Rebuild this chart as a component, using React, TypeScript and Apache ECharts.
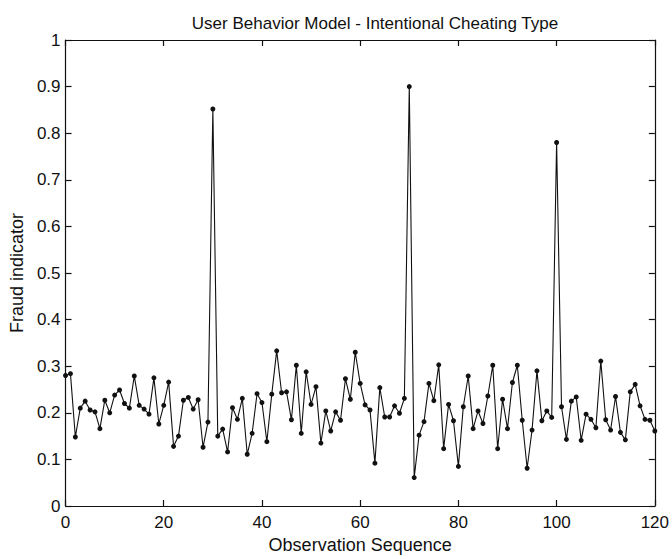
import React, { useEffect, useRef } from "react";
import * as echarts from "echarts";

const titleText = "User Behavior Model - Intentional Cheating Type";
const xName = "Observation Sequence";
const yName = "Fraud indicator";

// observation index 0..120
const fraudValues: number[] = [
  0.28, 0.284, 0.148, 0.21, 0.225, 0.206, 0.202, 0.166, 0.227, 0.2,
  0.238, 0.249, 0.22, 0.21, 0.279, 0.216, 0.208, 0.197, 0.275, 0.176,
  0.216, 0.266, 0.128, 0.15, 0.227, 0.233, 0.208, 0.228, 0.126, 0.18,
  0.852, 0.15, 0.165, 0.116, 0.211, 0.186, 0.231, 0.111, 0.156, 0.241,
  0.222, 0.138, 0.24, 0.333, 0.243, 0.245, 0.185, 0.302, 0.156, 0.288,
  0.218, 0.256, 0.135, 0.204, 0.161, 0.202, 0.184, 0.273, 0.229, 0.33,
  0.263, 0.217, 0.206, 0.092, 0.254, 0.191, 0.191, 0.215, 0.199, 0.231,
  0.9, 0.061, 0.152, 0.181, 0.263, 0.226, 0.303, 0.123, 0.218, 0.183,
  0.085, 0.213, 0.279, 0.166, 0.204, 0.177, 0.236, 0.302, 0.123, 0.229,
  0.166, 0.265, 0.302, 0.184, 0.081, 0.163, 0.29, 0.183, 0.204, 0.19,
  0.78, 0.213, 0.143, 0.225, 0.234, 0.141, 0.197, 0.186, 0.168, 0.311,
  0.185, 0.163, 0.235, 0.158, 0.142, 0.245, 0.261, 0.215, 0.186, 0.184,
  0.161,
];

const FONT = "'Liberation Sans', Arial, Helvetica, sans-serif";

export default function App() {
  const ref = useRef<HTMLDivElement>(null);
  useEffect(() => {
    if (!ref.current) return;
    const chart = echarts.init(ref.current, undefined, { renderer: "svg" });
    const data = fraudValues.map((v, i) => [i, v]);
    const axisLine = { show: true, onZero: false, lineStyle: { color: "#111", width: 1.2 } };
    const tick = { show: true, inside: true, length: 6, lineStyle: { color: "#111", width: 1.2 } };
    chart.setOption({
      animation: false,
      backgroundColor: "#ffffff",
      title: {
        text: titleText,
        left: 370,
        top: 10,
        textAlign: "center",
        textStyle: { fontFamily: FONT, fontSize: 17, fontWeight: "normal", color: "#111" },
      },
      grid: { left: 62, right: 16, top: 40, bottom: 52, containLabel: false },
      xAxis: [
        {
          type: "value",
          min: 0,
          max: 120,
          interval: 20,
          position: "bottom",
          name: xName,
          nameLocation: "middle",
          nameGap: 30,
          nameTextStyle: { fontFamily: FONT, fontSize: 18, color: "#111" },
          axisLine,
          axisTick: tick,
          axisLabel: { fontFamily: FONT, fontSize: 17, color: "#111", margin: 8 },
          splitLine: { show: false },
        },
        {
          type: "value",
          min: 0,
          max: 120,
          interval: 20,
          position: "top",
          axisLine,
          axisTick: tick,
          axisLabel: { show: false },
          splitLine: { show: false },
        },
      ],
      yAxis: [
        {
          type: "value",
          min: 0,
          max: 1,
          interval: 0.1,
          position: "left",
          name: yName,
          nameLocation: "middle",
          nameGap: 38,
          nameRotate: 90,
          nameTextStyle: { fontFamily: FONT, fontSize: 18, color: "#111" },
          axisLine,
          axisTick: tick,
          axisLabel: {
            fontFamily: FONT,
            fontSize: 17,
            color: "#111",
            margin: 5,
            formatter: (v: number) => (v === 0 ? "0" : v === 1 ? "1" : String(Math.round(v * 10) / 10)),
          },
          splitLine: { show: false },
        },
        {
          type: "value",
          min: 0,
          max: 1,
          interval: 0.1,
          position: "right",
          axisLine,
          axisTick: tick,
          axisLabel: { show: false },
          splitLine: { show: false },
        },
      ],
      series: [
        {
          type: "line",
          data,
          xAxisIndex: 0,
          yAxisIndex: 0,
          symbol: "circle",
          symbolSize: 5,
          showSymbol: true,
          lineStyle: { color: "#111", width: 1.1 },
          itemStyle: { color: "#111", borderWidth: 0 },
        },
      ],
    });
    return () => chart.dispose();
  }, []);
  return (
    <div
      ref={ref}
      style={{ position: "fixed", left: 0, top: 0, width: 672, height: 559, background: "#fff" }}
    />
  );
}
